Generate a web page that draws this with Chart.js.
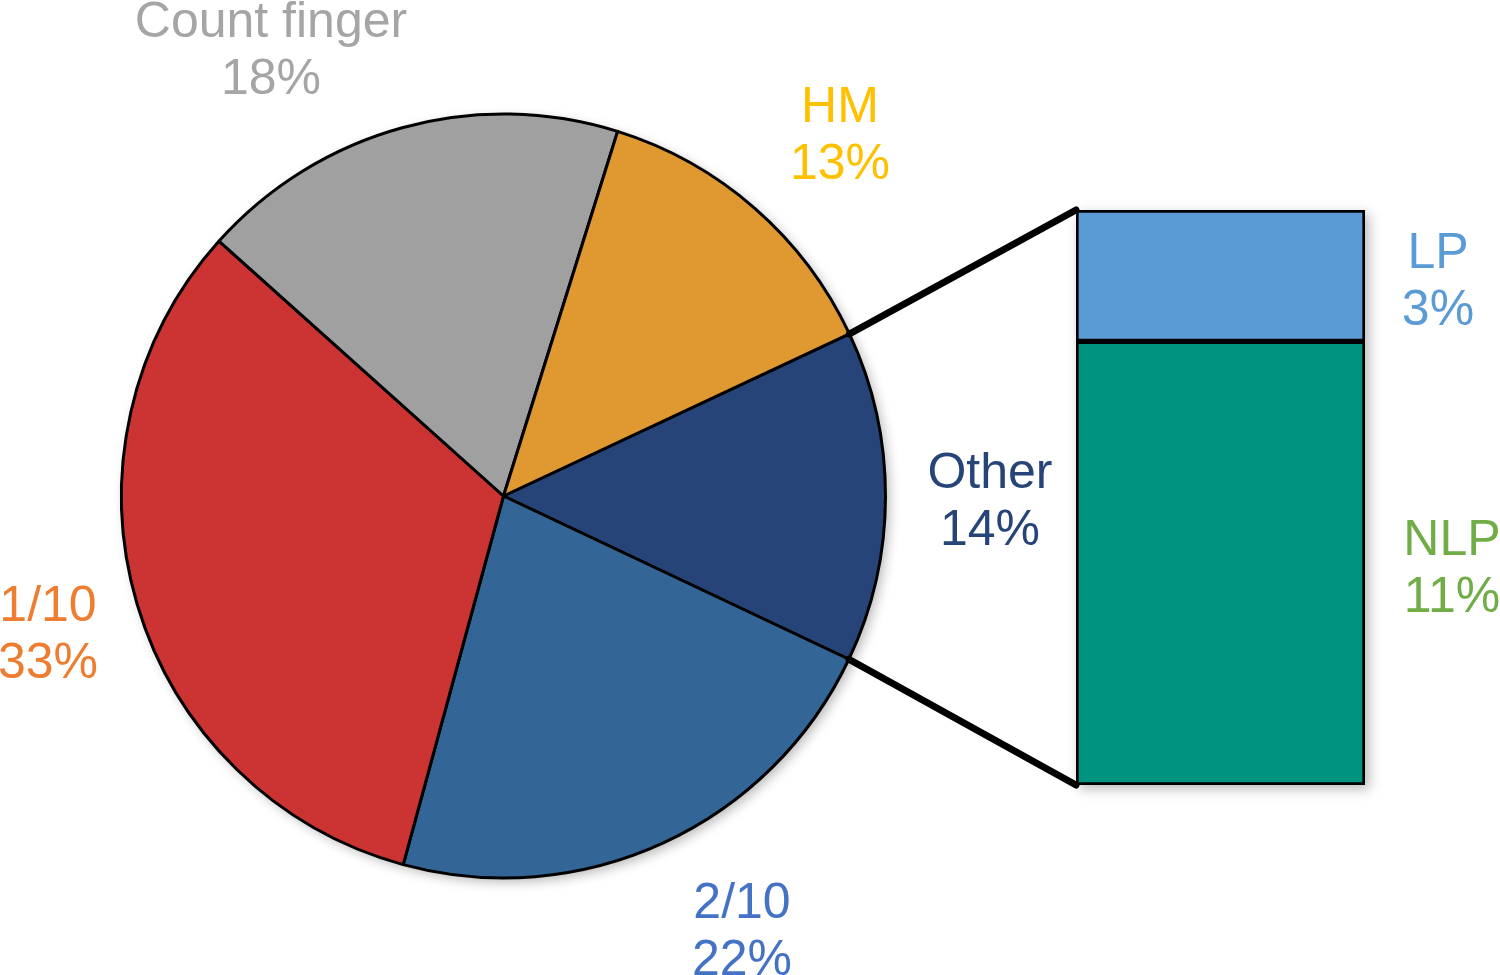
<!DOCTYPE html>
<html>
<head>
<meta charset="utf-8">
<script src="https://cdn.jsdelivr.net/npm/chart.js@4.4.1/dist/chart.umd.min.js"></script>
<style>
    html, body { margin: 0; padding: 0; background: #ffffff; }
    #wrap { position: relative; width: 1500px; height: 975px; }
    #wrap canvas { position: absolute; left: 0; top: 0; }
</style>
</head>
<body>
<div id="wrap">
    <canvas id="pieCanvas" width="1500" height="975"></canvas>
    <canvas id="barCanvas" width="1500" height="975"></canvas>
</div>
<script>
// ---- data ----
const pieLabels = ["Other", "2/10", "1/10", "Count finger", "HM"];
const pieValues = [14, 22.2, 32.4, 18.2, 13.2];
const pieText = ["14%", "22%", "33%", "18%", "13%"];

const barLabels = ["NLP", "LP"];
const barValues = [10.8, 3.2];
const barText = ["11%", "3%"];

// ---- styles ----
const pieColors = ["#264478", "#336696", "#CC3333", "#A0A0A0", "#E09830"];
const pieTextColors = ["#264478", "#4472C4", "#ED7D31", "#A5A5A5", "#FFC000"];
const barColors = ["#009480", "#5B9BD5"];
const barTextColors = ["#70AD47", "#5B9BD5"];

// label anchors (centre x, baseline of first line)
const pieLabelPos = [[990, 488], [742, 918], [48, 621], [271, 37], [840, 122]];
const barLabelPos = [[1452, 555], [1438, 268]];
const FONT = '50px "Liberation Sans", Arial, sans-serif';
const LINE_GAP = 57;

Chart.defaults.font.family = '"Liberation Sans", Arial, sans-serif';

function setShadow(ctx) {
    ctx.shadowColor = "rgba(0,0,0,0.28)";
    ctx.shadowBlur = 12;
    ctx.shadowOffsetX = 4;
    ctx.shadowOffsetY = 4;
}

// soft shadow under the pie
const pieShadow = {
    id: "pieShadow",
    beforeDatasetsDraw(chart) {
        const arc = chart.getDatasetMeta(0).data[0];
        const ctx = chart.ctx;
        ctx.save();
        setShadow(ctx);
        ctx.fillStyle = "#ffffff";
        ctx.beginPath();
        ctx.arc(arc.x, arc.y, arc.outerRadius, 0, Math.PI * 2);
        ctx.fill();
        ctx.restore();
    }
};

// Pie chart
const pieChart = new Chart(document.getElementById("pieCanvas").getContext("2d"), {
    type: "pie",
    data: {
        labels: pieLabels,
        datasets: [{
            data: pieValues,
            backgroundColor: pieColors,
            borderColor: "#000000",
            borderWidth: 3
        }]
    },
    options: {
        responsive: false,
        animation: false,
        rotation: 64.9,
        layout: { padding: { left: 120, right: 613, top: 112, bottom: 95 } },
        plugins: {
            legend: { display: false },
            tooltip: { enabled: false }
        }
    },
    plugins: [pieShadow]
});

// soft shadow under the bar
const barShadow = {
    id: "barShadow",
    beforeDatasetsDraw(chart) {
        const lp = chart.getDatasetMeta(1).data[0];
        const nlp = chart.getDatasetMeta(0).data[0];
        const ctx = chart.ctx;
        ctx.save();
        setShadow(ctx);
        ctx.fillStyle = "#ffffff";
        ctx.fillRect(lp.x - lp.width / 2, lp.y, lp.width, nlp.base - lp.y);
        ctx.restore();
    }
};

// Draw connectors + all labels on the overlay
const overlayPlugin = {
    id: "overlay",
    afterDraw(chart) {
        const ctx = chart.ctx;
        const arc = pieChart.getDatasetMeta(0).data[0];
        const r = arc.outerRadius;
        const lp = chart.getDatasetMeta(1).data[0];
        const nlp = chart.getDatasetMeta(0).data[0];
        const left = lp.x - lp.width / 2;

        ctx.save();
        ctx.strokeStyle = "#000000";
        ctx.lineWidth = 7;
        ctx.lineCap = "round";
        ctx.beginPath();
        ctx.moveTo(arc.x + r * Math.cos(arc.startAngle), arc.y + r * Math.sin(arc.startAngle));
        ctx.lineTo(left, lp.y);
        ctx.moveTo(arc.x + r * Math.cos(arc.endAngle), arc.y + r * Math.sin(arc.endAngle));
        ctx.lineTo(left, nlp.base);
        ctx.stroke();

        ctx.font = FONT;
        ctx.textAlign = "center";
        ctx.textBaseline = "alphabetic";
        pieLabels.forEach((lab, i) => {
            ctx.fillStyle = pieTextColors[i];
            ctx.fillText(lab, pieLabelPos[i][0], pieLabelPos[i][1]);
            ctx.fillText(pieText[i], pieLabelPos[i][0], pieLabelPos[i][1] + LINE_GAP);
        });
        barLabels.forEach((lab, i) => {
            ctx.fillStyle = barTextColors[i];
            ctx.fillText(lab, barLabelPos[i][0], barLabelPos[i][1]);
            ctx.fillText(barText[i], barLabelPos[i][0], barLabelPos[i][1] + LINE_GAP);
        });
        ctx.restore();
    }
};

// Stacked bar for the "Other" breakdown
const barChart = new Chart(document.getElementById("barCanvas").getContext("2d"), {
    type: "bar",
    data: {
        labels: ["Other"],
        datasets: barLabels.map((lab, i) => ({
            label: lab,
            data: [barValues[i]],
            backgroundColor: barColors[i],
            borderColor: "#000000",
            borderWidth: 3,
            borderSkipped: false,
            barPercentage: 1,
            categoryPercentage: 1
        }))
    },
    options: {
        responsive: false,
        animation: false,
        layout: { padding: { left: 1076, right: 135, top: 210, bottom: 190 } },
        scales: {
            x: { stacked: true, display: false },
            y: { stacked: true, display: false, min: 0, max: 14 }
        },
        plugins: {
            legend: { display: false },
            tooltip: { enabled: false }
        }
    },
    plugins: [barShadow, overlayPlugin]
});
</script>
</body>
</html>
